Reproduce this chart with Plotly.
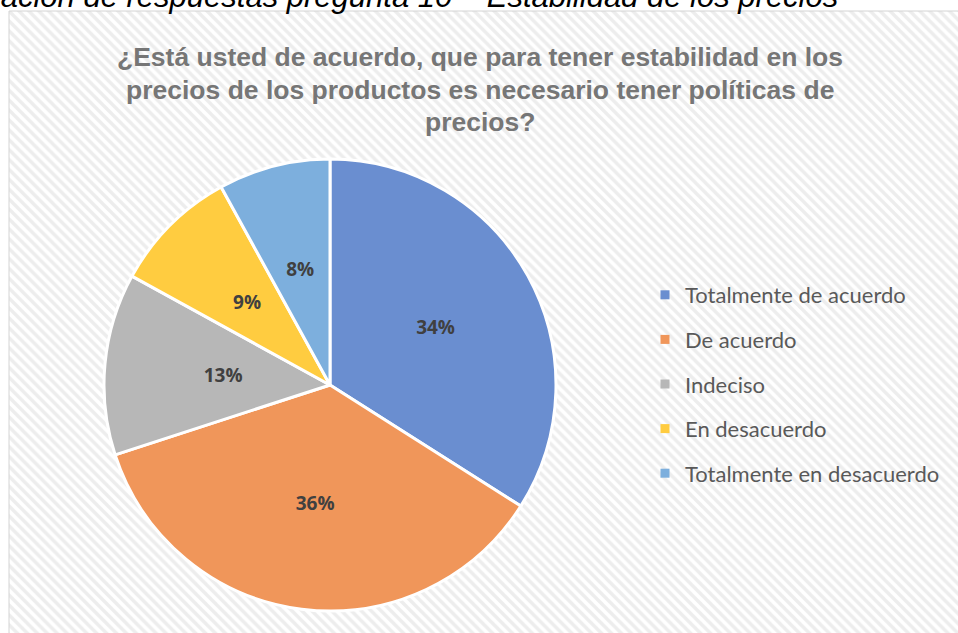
import plotly.graph_objects as go

# datos de la pregunta 10
categorias = ["Totalmente de acuerdo", "De acuerdo", "Indeciso",
              "En desacuerdo", "Totalmente en desacuerdo"]
porcentajes = [34, 36, 13, 9, 8]
colores = ["#6A8ED0", "#F0965A", "#B7B7B7", "#FFCC40", "#7DAFDD"]

titulo = ["¿Está usted de acuerdo, que para tener estabilidad en los",
          "precios de los productos es necesario tener políticas de",
          "precios?"]
leyenda_pie = "Tabulación de respuestas pregunta 10 – Estabilidad de los precios"

W, H = 958, 633
cx, cy, R = 330, 385, 226      # centro y radio del pastel (px)
R_txt = 150                    # radio auxiliar para las etiquetas de sectores chicos


def dominio(r):
    return dict(x=[(cx - r) / W, (cx + r) / W], y=[1 - (cy + r) / H, 1 - (cy - r) / H])


fuente_pct = dict(family="Open Sans", size=19, color="#404040", weight="bold")
grandes = ["%{value}%" if v >= 30 else "" for v in porcentajes]
chicos = ["" if v >= 30 else "%{value}%" for v in porcentajes]

fig = go.Figure()

# fondo rayado del área del gráfico
fig.add_trace(go.Bar(x=[0.5], y=[1], width=[1], showlegend=False, hoverinfo="skip",
                     marker=dict(color="white", line=dict(width=0),
                                 pattern=dict(shape="\\", fgcolor="#DCDCDC", bgcolor="white",
                                              size=7, solidity=0.5))))

# leyenda con entradas separadas
for cat, col in zip(categorias, colores):
    fig.add_trace(go.Scatter(x=[None], y=[None], mode="markers", name=cat,
                             legendgroup=cat,
                             marker=dict(symbol="square", size=9, color=col)))

fig.add_trace(go.Pie(
    labels=categorias, values=porcentajes, sort=False, direction="clockwise",
    rotation=0, showlegend=False, hoverinfo="label+percent",
    marker=dict(colors=colores, line=dict(color="white", width=3)),
    texttemplate=grandes, textposition="inside", insidetextorientation="horizontal",
    textfont=fuente_pct, domain=dominio(R),
))

# pastel transparente para acercar al centro las etiquetas de los sectores chicos
fig.add_trace(go.Pie(
    labels=categorias, values=porcentajes, sort=False, direction="clockwise",
    rotation=0, showlegend=False, hoverinfo="skip",
    marker=dict(colors=["rgba(0,0,0,0)"] * 5, line=dict(width=0)),
    texttemplate=chicos, textposition="inside", insidetextorientation="horizontal",
    textfont=fuente_pct, domain=dominio(R_txt),
))

anotaciones = [
    dict(text=linea, xref="paper", yref="paper", x=480 / W, y=1 - (57 + 32.5 * i) / H,
         xanchor="center", yanchor="middle", showarrow=False,
         font=dict(family="Liberation Sans", size=26.5, color="#767676", weight="bold"))
    for i, linea in enumerate(titulo)
]
anotaciones.append(
    dict(text=leyenda_pie, xref="paper", yref="paper", x=840 / W, y=1 + 3.5 / H,
         xanchor="right", yanchor="middle", showarrow=False,
         font=dict(family="Liberation Sans", size=31, color="black", style="italic")))

borde = dict(color="#D4D4D4", width=1)

fig.update_layout(
    width=W, height=H,
    margin=dict(l=0, r=0, t=0, b=0),
    paper_bgcolor="white", plot_bgcolor="white",
    bargap=0,
    xaxis=dict(domain=[9 / W, 1], range=[0, 1], visible=False, fixedrange=True),
    yaxis=dict(domain=[0, 1 - 11 / H], range=[0, 1], visible=False, fixedrange=True),
    legend=dict(x=645 / W, y=1 - 274 / H, xanchor="left", yanchor="top",
                bgcolor="rgba(0,0,0,0)", tracegroupgap=13,
                font=dict(family="Lato", size=22, color="#595959")),
    shapes=[
        dict(type="line", xref="paper", yref="paper", x0=9 / W, x1=9 / W,
             y0=0, y1=1 - 11 / H, line=borde),
        dict(type="line", xref="paper", yref="paper", x0=9 / W, x1=1,
             y0=1 - 11 / H, y1=1 - 11 / H, line=borde),
    ],
    annotations=anotaciones,
)

fig.write_html("out.html", config={"displayModeBar": False},
               post_script="document.body.style.margin='0';"
                           "document.body.style.overflow='hidden';"
                           "document.documentElement.style.overflow='hidden';")
